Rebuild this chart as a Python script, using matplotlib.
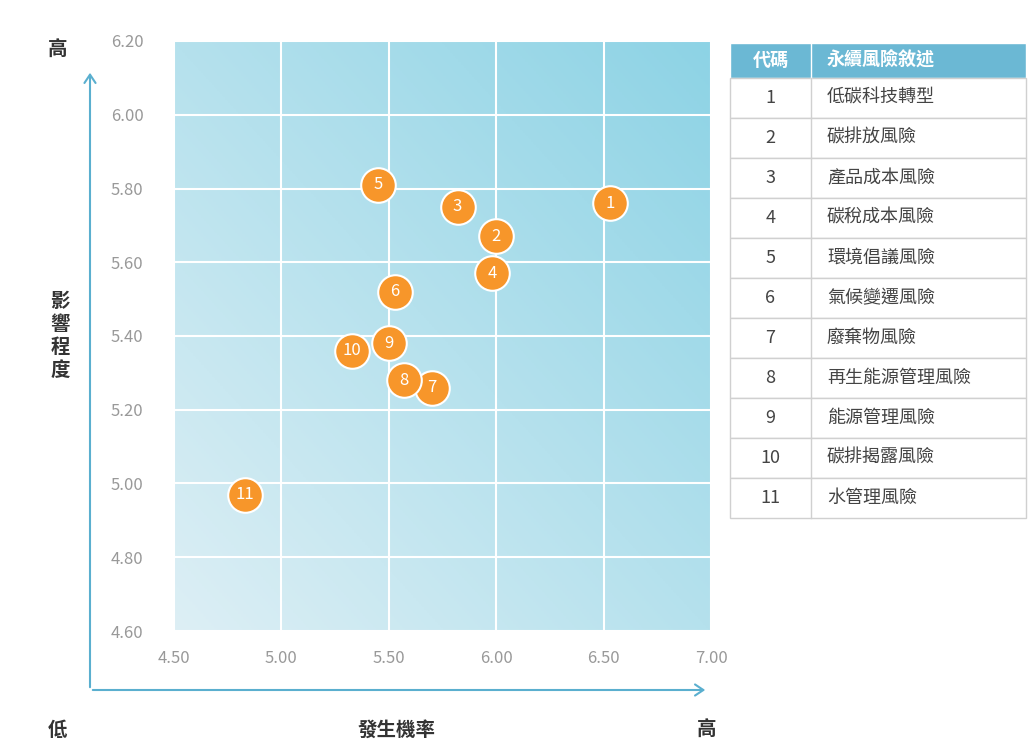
import numpy as np
import matplotlib
matplotlib.use("Agg")
import matplotlib.pyplot as plt
from matplotlib.patches import Rectangle, FancyArrowPatch
from matplotlib.colors import LinearSegmentedColormap

plt.rcParams['font.family'] = ['Noto Sans CJK TC', 'DejaVu Sans']

codes = ['1','2','3','4','5','6','7','8','9','10','11']
likelihood = [6.53, 6.00, 5.82, 5.98, 5.45, 5.53, 5.70, 5.57, 5.50, 5.33, 4.83]
impact = [5.76, 5.67, 5.75, 5.57, 5.81, 5.52, 5.26, 5.28, 5.38, 5.36, 4.97]
risk_names = ['低碳科技轉型','碳排放風險','產品成本風險','碳稅成本風險','環境倡議風險',
              '氣候變遷風險','廢棄物風險','再生能源管理風險','能源管理風險','碳排揭露風險','水管理風險']
xticks = [4.5, 5.0, 5.5, 6.0, 6.5, 7.0]
yticks = [4.6, 4.8, 5.0, 5.2, 5.4, 5.6, 5.8, 6.0, 6.2]

W, H = 1028, 756
fig = plt.figure(figsize=(W/100, H/100), dpi=100)
ax = fig.add_axes([174/W, 1-631/H, 537/W, 590/H])
ax.set_xlim(4.5, 7.0); ax.set_ylim(4.6, 6.2)

# gradient background
gx, gy = np.meshgrid(np.linspace(0, 1, 200), np.linspace(0, 1, 200))
g = (gx + gy) / 2
cmap = LinearSegmentedColormap.from_list('bg', ['#ddeff5', '#8dd3e5'])
ax.imshow(g, extent=[4.5, 7.0, 4.6, 6.2], origin='lower', cmap=cmap, aspect='auto', zorder=0)

ax.set_xticks(xticks); ax.set_yticks(yticks)
ax.set_xticklabels([f'{v:.2f}' for v in xticks])
ax.set_yticklabels([f'{v:.2f}' for v in yticks])
ax.tick_params(length=0, colors='#999999', labelsize=12, pad=14)
ax.tick_params(axis='y', pad=22)
ax.grid(True, color='white', linewidth=1.5, zorder=1)
for s in ax.spines.values():
    s.set_visible(False)

ax.scatter(likelihood, impact, s=620, color='#f7962a', edgecolor='white', linewidth=1.5, zorder=3)
for c, x, y in zip(codes, likelihood, impact):
    ax.text(x, y, c, color='white', ha='center', va='center', fontsize=12, zorder=4)

# arrows
ac = '#5aafcf'
fig.patches.append(FancyArrowPatch((90/W, 1-690/H), (90/W, 1-70/H), transform=fig.transFigure,
                                   arrowstyle='->,head_length=6,head_width=4', color=ac, lw=1.5))
fig.patches.append(FancyArrowPatch((90/W, 1-690/H), (708/W, 1-690/H), transform=fig.transFigure,
                                   arrowstyle='->,head_length=6,head_width=4', color=ac, lw=1.5))

tc = '#333333'
fig.text(58/W, 1-50/H, '高', ha='center', va='center', fontsize=14, fontweight='bold', color=tc)
fig.text(58/W, 1-730/H, '低', ha='center', va='center', fontsize=14, fontweight='bold', color=tc)
fig.text(707/W, 1-730/H, '高', ha='center', va='center', fontsize=14, fontweight='bold', color=tc)
fig.text(397/W, 1-730/H, '發生機率', ha='center', va='center', fontsize=14, fontweight='bold', color=tc)
fig.text(60/W, 1-336/H, '影\n響\n程\n度', ha='center', va='center', fontsize=14, fontweight='bold',
         color=tc, linespacing=1.25)

# table
x0, x1, x2 = 730, 811, 1026
top, hh, rh = 43, 35, 40
def frect(x, y, w, h, **kw):
    fig.patches.append(Rectangle((x/W, 1-(y+h)/H), w/W, h/H, transform=fig.transFigure, **kw))
frect(x0, top, x2-x0, hh, facecolor='#6bb8d4', edgecolor='white', lw=1)
fig.add_artist(plt.Line2D([x1/W, x1/W], [1-top/H, 1-(top+hh)/H], color='white', lw=1))
fig.text((x0+x1)/2/W, 1-(top+hh/2)/H, '代碼', ha='center', va='center', color='white', fontsize=13, fontweight='bold')
fig.text((x1+16)/W, 1-(top+hh/2)/H, '永續風險敘述', ha='left', va='center', color='white', fontsize=13, fontweight='bold')
for i, (c, n) in enumerate(zip(codes, risk_names)):
    y = top + hh + i*rh
    frect(x0, y, x2-x0, rh, facecolor='white', edgecolor='#d0d0d0', lw=1)
    fig.add_artist(plt.Line2D([x1/W, x1/W], [1-y/H, 1-(y+rh)/H], color='#d0d0d0', lw=1))
    fig.text((x0+x1)/2/W, 1-(y+rh/2)/H, c, ha='center', va='center', color='#444444', fontsize=13)
    fig.text((x1+16)/W, 1-(y+rh/2)/H, n, ha='left', va='center', color='#444444', fontsize=13)

fig.savefig('out.png', dpi=100)
